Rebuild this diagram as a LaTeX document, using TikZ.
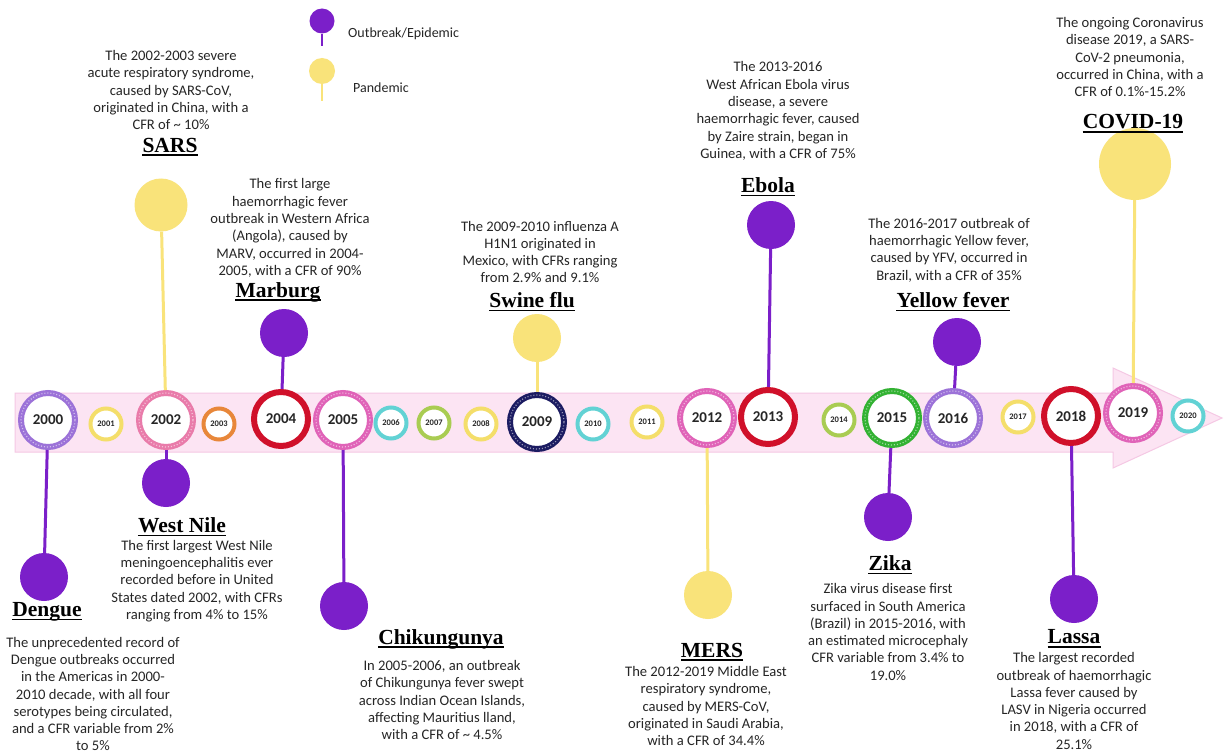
\documentclass[tikz,border=0pt]{standalone}
\usepackage{fontspec}
\setmainfont{Carlito}
\newfontfamily\titlefont{Liberation Serif}
\definecolor{purp}{HTML}{7B1FC9}
\definecolor{yel}{HTML}{F9E37A}
\definecolor{band}{HTML}{FCE4F3}
\definecolor{bandedge}{HTML}{F5C8E4}
\definecolor{txt}{HTML}{262626}
\definecolor{lav}{HTML}{9C72D8}
\definecolor{yy}{HTML}{F4DE6A}
\definecolor{pk}{HTML}{E97BAA}
\definecolor{org}{HTML}{E8873A}
\definecolor{rd}{HTML}{D0102A}
\definecolor{mg}{HTML}{E063B8}
\definecolor{cy}{HTML}{62D2D4}
\definecolor{yg}{HTML}{A9CC52}
\definecolor{nv}{HTML}{1C1C62}
\definecolor{gr}{HTML}{33B233}
\begin{document}
\begin{tikzpicture}[x=1pt,y=-1pt,
  bigyr/.style={circle,draw=#1,line width=6pt,fill=white,minimum size=54pt,inner sep=0pt,
    text=txt,font=\bfseries\fontsize{15}{15}\selectfont},
  smallyr/.style={circle,draw=#1,line width=4pt,fill=white,minimum size=31pt,inner sep=0pt,
    text=txt,font=\bfseries\fontsize{8.5}{8.5}\selectfont},
  pat/.style={postaction={draw=white,line width=1.2pt,dash pattern=on 1pt off 2pt,opacity=0.55}},
  pinP/.style={circle,fill=purp,minimum size=48pt,inner sep=0pt},
  pinY/.style={circle,fill=yel,minimum size=#1,inner sep=0pt},
  stemP/.style={draw=purp,line width=3pt},
  stemY/.style={draw=yel,line width=3pt},
  desc/.style={align=center,inner sep=0pt,text=txt,font=\fontsize{14.6}{17.3}\selectfont},
  ttl/.style={inner sep=0pt,text=black,font=\titlefont\bfseries\fontsize{21.5}{21.5}\selectfont},
  ul/.style={draw=black,line width=1.5pt},
  leg/.style={inner sep=0pt,anchor=west,text=txt,font=\fontsize{14}{16}\selectfont}
]
\useasboundingbox (0,0) rectangle (1225,754);
\fill[white] (0,0) rectangle (1225,754);

% arrow band
\draw[fill=band,draw=bandedge,line width=1pt] (15,393) -- (1113,393) -- (1113,368) -- (1222,418)
  -- (1113,468) -- (1113,452) -- (15,452) -- cycle;

% legend
\node[pinP,minimum size=25pt] (lp) at (322,21) {};
\coordinate (lpe) at (322,46);
\draw[stemP,line width=2pt] (lp) -- (lpe);
\node[leg] (lpt) at (348,34) {Outbreak/Epidemic};
\node[pinY=26pt] (ly) at (322,71) {};
\coordinate (lye) at (322,101);
\draw[stemY,line width=2pt] (ly) -- (lye);
\node[leg] (lyt) at (353,88) {Pandemic};

% year circles
\node[bigyr=lav,pat] (y2000) at (48,420) {2000};
\node[smallyr=yy] (y2001) at (106,424) {2001};
\node[bigyr=pk,pat] (y2002) at (166,420) {2002};
\node[smallyr=org] (y2003) at (219,424) {2003};
\node[bigyr=rd] (y2004) at (281,419) {2004};
\node[bigyr=mg,pat] (y2005) at (343,420) {2005};
\node[smallyr=cy] (y2006) at (391,423) {2006};
\node[smallyr=yg] (y2007) at (434,423) {2007};
\node[smallyr=yy] (y2008) at (481,424) {2008};
\node[bigyr=nv,pat] (y2009) at (537,422) {2009};
\node[smallyr=cy] (y2010) at (593,424) {2010};
\node[smallyr=yy] (y2011) at (647,422) {2011};
\node[bigyr=mg,pat] (y2012) at (707,418) {2012};
\node[bigyr=rd] (y2013) at (768,417) {2013};
\node[smallyr=yg] (y2014) at (839,420) {2014};
\node[bigyr=gr,pat] (y2015) at (892,418) {2015};
\node[bigyr=lav,pat] (y2016) at (953,418) {2016};
\node[smallyr=yy] (y2017) at (1018,417) {2017};
\node[bigyr=rd] (y2018) at (1071,416) {2018};
\node[bigyr=mg,pat] (y2019) at (1133,413) {2019};
\node[smallyr=cy] (y2020) at (1188,416) {2020};

% pins
\node[pinP] (dengue) at (44,577) {};
\node[pinP] (westnile) at (166,483) {};
\node[pinP] (marburg) at (284,333) {};
\node[pinP] (chik) at (344,606) {};
\node[pinP] (ebola) at (771,225) {};
\node[pinP] (zika) at (888,517) {};
\node[pinP] (yellow) at (957,342) {};
\node[pinP] (lassa) at (1074,599) {};
\node[pinY=53pt] (sars) at (161,205) {};
\node[pinY=48pt] (swine) at (537,338) {};
\node[pinY=48pt] (mers) at (708,595) {};
\node[pinY=72pt] (covid) at (1135,164) {};

\draw[stemP] (y2000) -- (dengue);
\draw[stemP] (y2002) -- (westnile);
\draw[stemP] (y2004) -- (marburg);
\draw[stemP] (y2005) -- (chik);
\draw[stemP] (y2013) -- (ebola);
\draw[stemP] (y2015) -- (zika);
\draw[stemP] (y2016) -- (yellow);
\draw[stemP] (y2018) -- (lassa);
\draw[stemY] (y2002) -- (sars);
\draw[stemY] (y2009) -- (swine);
\draw[stemY] (y2012) -- (mers);
\draw[stemY] (y2019) -- (covid);

% titles
\newcommand{\Ttl}[4]{\node[ttl] (#1) at (#2,#3) {#4};
  \draw[ul] ([yshift=-3pt]#1.base west) -- ([yshift=-3pt]#1.base east);}
\Ttl{tsars}{170}{145}{SARS}
\Ttl{tmarburg}{278}{292}{Marburg}
\Ttl{tswine}{532}{300}{Swine flu}
\Ttl{tebola}{768}{185}{Ebola}
\Ttl{tyellow}{953}{300}{Yellow fever}
\Ttl{tcovid}{1133}{122}{COVID-19}
\Ttl{twestnile}{182}{525}{West Nile}
\Ttl{tdengue}{47}{612}{Dengue}
\Ttl{tchik}{441}{639}{Chikungunya}
\Ttl{tmers}{712}{650}{MERS}
\Ttl{tzika}{890}{563}{Zika}
\Ttl{tlassa}{1074}{637}{Lassa}

% descriptions
\node[desc] (dsars) at (171,90) {The 2002-2003 severe\\acute respiratory syndrome,\\caused by SARS-CoV,\\originated in China, with a\\CFR of \textasciitilde{} 10\%};
\node[desc] (dmarburg) at (290,228) {The first large\\haemorrhagic fever\\outbreak in Western Africa\\(Angola), caused by\\MARV, occurred in 2004-\\2005, with a CFR of 90\%};
\node[desc] (dswine) at (540,252) {The 2009-2010 influenza A\\H1N1 originated in\\Mexico, with CFRs ranging\\from 2.9\% and 9.1\%};
\node[desc] (debola) at (778,111) {The 2013-2016\\West African Ebola virus\\disease, a severe\\haemorrhagic fever, caused\\by Zaire strain, began in\\Guinea, with a CFR of 75\%};
\node[desc] (dyellow) at (949,250) {The 2016-2017 outbreak of\\haemorrhagic Yellow fever,\\caused by YFV, occurred in\\Brazil, with a CFR of 35\%};
\node[desc] (dcovid) at (1130,57) {The ongoing Coronavirus\\disease 2019, a SARS-\\CoV-2 pneumonia,\\occurred in China, with a\\CFR of 0.1\%-15.2\%};
\node[desc] (dwestnile) at (197,581) {The first largest West Nile\\meningoencephalitis ever\\recorded before in United\\States dated 2002, with CFRs\\ranging from 4\% to 15\%};
\node[desc] (ddengue) at (93,694) {The unprecedented record of\\Dengue outbreaks occurred\\in the Americas in 2000-\\2010 decade, with all four\\serotypes being circulated,\\and a CFR variable from 2\%\\to 5\%};
\node[desc] (dchik) at (442,700) {In 2005-2006, an outbreak\\of Chikungunya fever swept\\across Indian Ocean Islands,\\affecting Mauritius lland,\\with a CFR of \textasciitilde{} 4.5\%};
\node[desc] (dmers) at (706,706) {The 2012-2019 Middle East\\respiratory syndrome,\\caused by MERS-CoV,\\originated in Saudi Arabia,\\with a CFR of 34.4\%};
\node[desc] (dzika) at (888,632) {Zika virus disease first\\surfaced in South America\\(Brazil) in 2015-2016, with\\an estimated microcephaly\\CFR variable from 3.4\% to\\19.0\%};
\node[desc] (dlassa) at (1074,701) {The largest recorded\\outbreak of haemorrhagic\\Lassa fever caused by\\LASV in Nigeria occurred\\in 2018, with a CFR of\\25.1\%};
\end{tikzpicture}
\end{document}
